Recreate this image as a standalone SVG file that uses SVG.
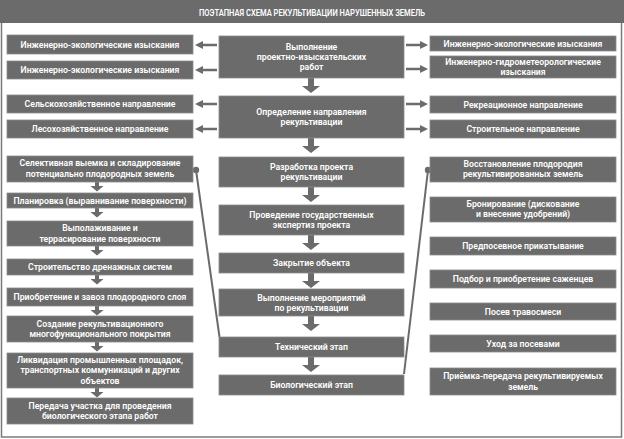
<svg xmlns="http://www.w3.org/2000/svg" xmlns:xlink="http://www.w3.org/1999/xlink" width="624" height="439" viewBox="0 0 624 439">
<style>
.b{fill:#6b6b6b;stroke:#8c8c8c;stroke-width:0.8}
.t{fill:#ffffff;font-family:Roboto,"Liberation Sans",sans-serif;font-weight:600;font-size:8.7px;text-anchor:middle}
.a{fill:#6b6b6b}
.ln{stroke:#6b6b6b;stroke-width:2;fill:none}
</style>
<defs>
<path id="bd" d="M-3,0 H3 V8 H9 L0,15 L-9,8 H-3 Z"/>
<path id="sd" d="M-2,0 H2 V4 H6.5 L0,9.5 L-6.5,4 H-2 Z"/>
<path id="la" d="M0,0 L8,-4 V-1.3 H22 V1.3 H8 V4 Z"/>
<path id="ra" d="M0,0 L-8,-4 V-1.3 H-22 V1.3 H-8 V4 Z"/>
</defs>
<rect x="1.5" y="1.5" width="620" height="435.5" fill="#ffffff" stroke="#7a7a7a" stroke-width="1.5"/>
<g id="title">
<rect x="0" y="0" width="624" height="23" fill="#6b6b6b"/>
<text x="312" y="15.8" class="t" font-size="10.5" textLength="226" lengthAdjust="spacingAndGlyphs">ПОЭТАПНАЯ СХЕМА РЕКУЛЬТИВАЦИИ НАРУШЕННЫХ ЗЕМЕЛЬ</text>
</g>

<g id="connectors">
<line class="ln" x1="196" y1="170" x2="219.5" y2="337"/>
<circle cx="196" cy="170" r="3.2" class="a"/>
<line class="ln" x1="428" y1="170" x2="404" y2="374"/>
<circle cx="428" cy="170" r="3.2" class="a"/>
<g class="a">
<use xlink:href="#la" x="195" y="45"/>
<use xlink:href="#la" x="195" y="70"/>
<use xlink:href="#la" x="195" y="104"/>
<use xlink:href="#la" x="195" y="129"/>
<use xlink:href="#ra" x="428" y="45"/>
<use xlink:href="#ra" x="428" y="69"/>
<use xlink:href="#ra" x="428" y="104"/>
<use xlink:href="#ra" x="428" y="129"/>
<use xlink:href="#bd" x="311" y="78"/>
<use xlink:href="#bd" x="311" y="138"/>
<use xlink:href="#bd" x="311" y="187"/>
<use xlink:href="#bd" x="311" y="235"/>
<use xlink:href="#bd" x="311" y="273"/>
<use xlink:href="#bd" x="311" y="316"/>
<use xlink:href="#bd" x="311" y="357"/>
<use xlink:href="#sd" x="97" y="182"/>
<use xlink:href="#sd" x="97" y="208"/>
<use xlink:href="#sd" x="97" y="246"/>
<use xlink:href="#sd" x="97" y="275"/>
<use xlink:href="#sd" x="97" y="306"/>
<use xlink:href="#sd" x="97" y="342"/>
<use xlink:href="#sd" x="97" y="388"/>
</g>
</g>

<!-- left column -->
<g id="l1"><rect class="b" x="7" y="35" width="186" height="19"/><text class="t" x="100" y="47.5">Инженерно-экологические изыскания</text></g>
<g id="l2"><rect class="b" x="7" y="61" width="186" height="18"/><text class="t" x="100" y="73">Инженерно-экологические изыскания</text></g>
<g id="l3"><rect class="b" x="7" y="95" width="186" height="18"/><text class="t" x="100" y="107">Сельскохозяйственное направление</text></g>
<g id="l4"><rect class="b" x="7" y="120" width="186" height="18"/><text class="t" x="100" y="132">Лесохозяйственное направление</text></g>
<g id="l5"><rect class="b" x="7" y="156" width="186" height="26"/><text class="t" x="100" y="166">Селективная выемка и складирование</text><text class="t" x="100" y="176.5">потенциально плодородных земель</text></g>
<g id="l6"><rect class="b" x="7" y="193" width="186" height="15"/><text class="t" x="100" y="203.5">Планировка (выравнивание поверхности)</text></g>
<g id="l7"><rect class="b" x="7" y="221" width="186" height="25"/><text class="t" x="100" y="231">Выполаживание и</text><text class="t" x="100" y="241.5">террасирование поверхности</text></g>
<g id="l8"><rect class="b" x="7" y="259" width="186" height="16"/><text class="t" x="100" y="270">Строительство дренажных систем</text></g>
<g id="l9"><rect class="b" x="7" y="288" width="186" height="18"/><text class="t" x="100" y="300">Приобретение и завоз плодородного слоя</text></g>
<g id="l10"><rect class="b" x="7" y="316" width="186" height="26"/><text class="t" x="100" y="326.5">Создание рекультивационного</text><text class="t" x="100" y="337">многофункционального покрытия</text></g>
<g id="l11"><rect class="b" x="7" y="353" width="186" height="35"/><text class="t" x="100" y="362.5">Ликвидация промышленных площадок,</text><text class="t" x="100" y="373">транспортных коммуникаций и других</text><text class="t" x="100" y="383.5">объектов</text></g>
<g id="l12"><rect class="b" x="7" y="398" width="186" height="26"/><text class="t" x="100" y="408.5">Передача участка для проведения</text><text class="t" x="100" y="419">биологического этапа работ</text></g>

<!-- center column -->
<g id="c1"><rect class="b" x="219" y="36" width="185" height="42"/><text class="t" x="311.5" y="50">Выполнение</text><text class="t" x="311.5" y="60">проектно-изыскательских</text><text class="t" x="311.5" y="70">работ</text></g>
<g id="c2"><rect class="b" x="219" y="96" width="185" height="42"/><text class="t" x="311.5" y="114.5">Определение направления</text><text class="t" x="311.5" y="124.5">рекультивации</text></g>
<g id="c3"><rect class="b" x="219" y="157" width="185" height="30"/><text class="t" x="311.5" y="170">Разработка проекта</text><text class="t" x="311.5" y="180">рекультивации</text></g>
<g id="c4"><rect class="b" x="219" y="205" width="185" height="30"/><text class="t" x="311.5" y="218">Проведение государственных</text><text class="t" x="311.5" y="228">экспертиз проекта</text></g>
<g id="c5"><rect class="b" x="219" y="253" width="185" height="20"/><text class="t" x="311.5" y="266">Закрытие объекта</text></g>
<g id="c6"><rect class="b" x="219" y="289" width="185" height="27"/><text class="t" x="311.5" y="300.5">Выполнение мероприятий</text><text class="t" x="311.5" y="310.5">по рекультивации</text></g>
<g id="c7"><rect class="b" x="219" y="337" width="185" height="20"/><text class="t" x="311.5" y="350">Технический этап</text></g>
<g id="c8"><rect class="b" x="219" y="375" width="185" height="20"/><text class="t" x="311.5" y="388">Биологический этап</text></g>

<!-- right column -->
<g id="r1"><rect class="b" x="430" y="36" width="186" height="15"/><text class="t" x="523" y="46.5">Инженерно-экологические изыскания</text></g>
<g id="r2"><rect class="b" x="430" y="56" width="186" height="22"/><text class="t" x="523" y="65">Инженерно-гидрометеорологические</text><text class="t" x="523" y="75">изыскания</text></g>
<g id="r3"><rect class="b" x="430" y="96" width="186" height="17"/><text class="t" x="523" y="107.5">Рекреационное направление</text></g>
<g id="r4"><rect class="b" x="430" y="120" width="186" height="18"/><text class="t" x="523" y="132">Строительное направление</text></g>
<g id="r5"><rect class="b" x="430" y="157" width="186" height="25"/><text class="t" x="523" y="166.5">Восстановление плодородия</text><text class="t" x="523" y="177">рекультивированных земель</text></g>
<g id="r6"><rect class="b" x="430" y="197" width="186" height="25"/><text class="t" x="523" y="206.5">Бронирование (дискование</text><text class="t" x="523" y="217">и внесение удобрений)</text></g>
<g id="r7"><rect class="b" x="430" y="237" width="186" height="18"/><text class="t" x="523" y="249">Предпосевное прикатывание</text></g>
<g id="r8"><rect class="b" x="430" y="270" width="186" height="18"/><text class="t" x="523" y="282">Подбор и приобретение саженцев</text></g>
<g id="r9"><rect class="b" x="430" y="303" width="186" height="17"/><text class="t" x="523" y="314.5">Посев травосмеси</text></g>
<g id="r10"><rect class="b" x="430" y="335" width="186" height="17"/><text class="t" x="523" y="346.5">Уход за посевами</text></g>
<g id="r11"><rect class="b" x="430" y="368" width="186" height="27"/><text class="t" x="523" y="379">Приёмка-передача рекультивируемых</text><text class="t" x="523" y="389.5">земель</text></g>
</svg>
